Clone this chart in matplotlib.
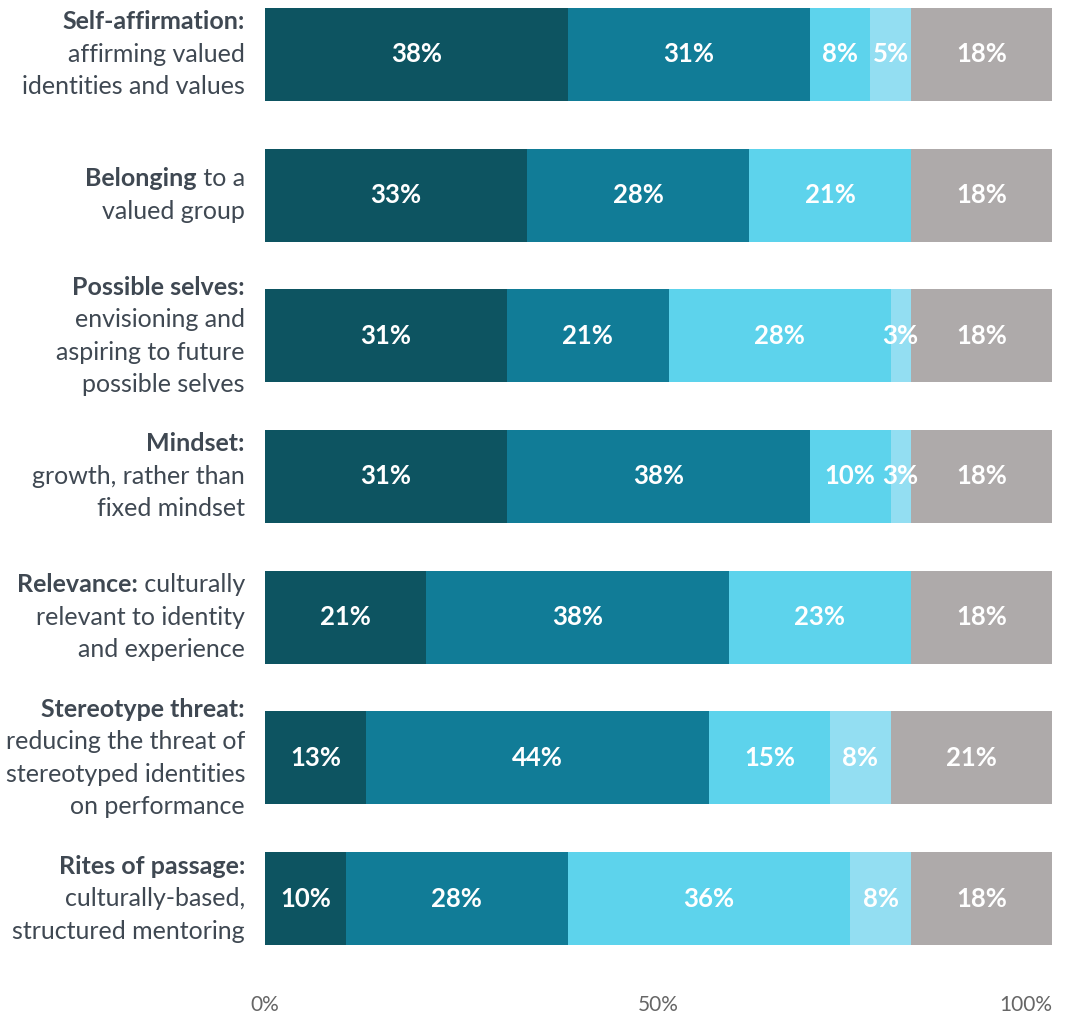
import matplotlib.pyplot as plt
import numpy as np

# share of responses per segment (%)
strongly = [38.46, 33.33, 30.77, 30.77, 20.51, 12.82, 10.26]
somewhat = [30.77, 28.21, 20.51, 38.46, 38.46, 43.59, 28.21]
slightly = [7.69, 20.51, 28.21, 10.26, 23.08, 15.38, 35.9]
barely = [5.13, 0.0, 2.56, 2.56, 0.0, 7.69, 7.69]
other = [17.95, 17.95, 17.95, 17.95, 17.95, 20.52, 17.95]

# (bold part, regular part) per line of each row label
row_labels = [
    [("Self-affirmation:", ""), ("", "affirming valued"), ("", "identities and values")],
    [("Belonging", " to a"), ("", "valued group")],
    [("Possible selves:", ""), ("", "envisioning and"), ("", "aspiring to future"), ("", "possible selves")],
    [("Mindset:", ""), ("", "growth, rather than"), ("", "fixed mindset")],
    [("Relevance:", " culturally"), ("", "relevant to identity"), ("", "and experience")],
    [("Stereotype threat:", ""), ("", "reducing the threat of"), ("", "stereotyped identities"), ("", "on performance")],
    [("Rites of passage:", ""), ("", "culturally-based,"), ("", "structured mentoring")],
]

xticks = [0, 50, 100]
xtick_labels = ["0%", "50%", "100%"]

colors = ["#0d5461", "#117c97", "#5dd3ec", "#93def2", "#aeaaaa"]
label_color = "#3f4852"
font = "Lato"

plt.rcParams["font.family"] = [font, "DejaVu Sans"]

fig = plt.figure(figsize=(10.92, 10.13), dpi=100)
ax = fig.add_axes([265 / 1092, 68 / 1013, 787 / 1092, 937 / 1013])

series = [strongly, somewhat, slightly, barely, other]
y = np.arange(len(row_labels))
left = np.zeros(len(row_labels))
for vals, col in zip(series, colors):
    vals = np.array(vals)
    ax.barh(y, vals, left=left, height=0.66, color=col, edgecolor="none")
    for yi, l, v in zip(y, left, vals):
        if v > 0:
            ax.text(l + v / 2, yi, f"{int(v + 0.5)}%", ha="center", va="center",
                    color="white", fontsize=18.5, fontweight="bold")
    left += vals

ax.set_xlim(0, 100)
ax.set_ylim(len(row_labels) - 1 + 0.33, -0.33)
for s in ax.spines.values():
    s.set_visible(False)
ax.set_yticks([])
ax.set_xticks(xticks)
ax.set_xticklabels(xtick_labels, color="#666666", fontsize=15)
ax.tick_params(axis="x", length=0, pad=36)
ax.get_xticklabels()[-1].set_ha("right")

# row labels, right aligned left of the bars, bold lead-in where present
trans = ax.get_yaxis_transform()
line_h = 23.4  # points
fs = 18
for yi, lines in zip(y, row_labels):
    n = len(lines)
    for k, (bold, reg) in enumerate(lines):
        off = ((n - 1) / 2 - k) * line_h
        if reg:
            t = ax.annotate(reg, xy=(0, yi), xycoords=trans, xytext=(-14.4, off),
                            textcoords="offset points", ha="right", va="center",
                            fontsize=fs, color=label_color)
            if bold:
                ax.annotate(bold, xy=(0, 0.5), xycoords=t, ha="right", va="center",
                            fontsize=fs, color=label_color, fontweight="bold")
        else:
            ax.annotate(bold, xy=(0, yi), xycoords=trans, xytext=(-14.4, off),
                        textcoords="offset points", ha="right", va="center",
                        fontsize=fs, color=label_color, fontweight="bold")

fig.savefig("out.png", dpi=100)
